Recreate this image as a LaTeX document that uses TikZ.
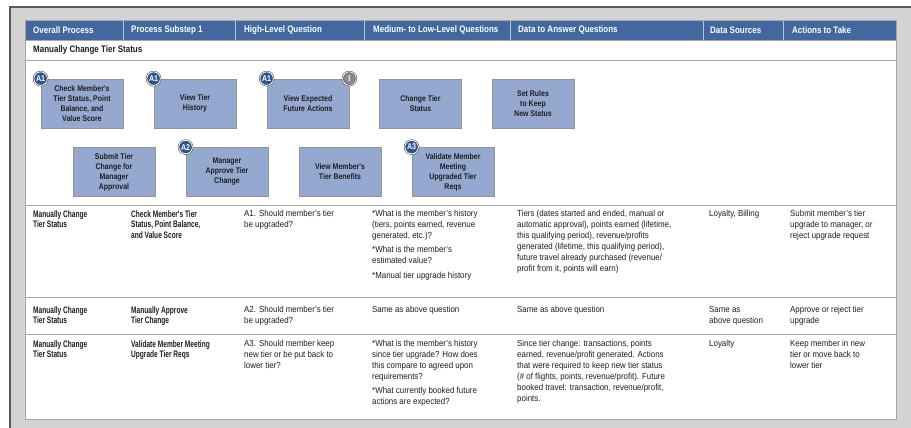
\documentclass[tikz,border=0pt]{standalone}
\usepackage{fontspec}
\setmainfont[FakeStretch=0.9]{Liberation Sans}
\newfontfamily\headfont[FakeStretch=0.85]{Liberation Sans}
\newfontfamily\rowfont[FakeStretch=0.7]{Liberation Sans}
\usetikzlibrary{positioning}
\definecolor{framegray}{HTML}{D3D3D3}
\definecolor{framedark}{HTML}{5A5A5A}
\definecolor{headblue}{HTML}{43689F}
\definecolor{boxblue}{HTML}{95A8CF}
\definecolor{badgeblue}{HTML}{2C5596}
\definecolor{badgegray}{HTML}{8A8A8A}
\definecolor{rulegray}{HTML}{A8A8A8}
\definecolor{inkdark}{HTML}{1E1E1E}
\tikzset{
  headtxt/.style={anchor=west, text=white, inner sep=0pt, font=\fontsize{9.4}{11}\headfont\bfseries},
  celltxt/.style={anchor=north west, align=left, text=inkdark, inner sep=0pt, font=\fontsize{8.8}{10.9}\selectfont},
  cellbold/.style={celltxt, font=\fontsize{9.4}{10.9}\rowfont\bfseries},
  procbox/.style={rectangle, fill=boxblue, draw=gray!85, line width=0.8pt, minimum width=82pt, minimum height=49pt, align=center, text=inkdark, inner sep=1pt, font=\fontsize{8.2}{10}\headfont\bfseries},
  badge/.style={circle, fill=badgeblue, draw=black!75, double=white, double distance=0.9pt, line width=0.5pt, minimum size=13.5pt, inner sep=0pt, text=white, font=\fontsize{8.4}{8}\headfont\bfseries},
  infobadge/.style={badge, fill=badgegray}
}
\begin{document}
\begin{tikzpicture}[x=1pt, y=-1pt]
  % Coordinates
  \coordinate (F) at (10,7);
  \coordinate (G) at (911,428);
  \coordinate (T) at (25,21);
  \coordinate (U) at (896,419);

  % Frame and table
  \useasboundingbox (0,0) rectangle (G);
  \fill[framegray] (F) rectangle (G);
  \draw[framedark, line width=1.5pt] (10,428) -- (F) -- (911,7);
  \fill[white] (T) rectangle (U);
  \fill[headblue] (T) rectangle (896,40);
  \foreach \x in {123,235,364,510,703,783}
    \draw[rulegray!70, line width=0.8pt] (\x,21) -- (\x,40);
  \foreach \y in {40,60,205,297,334}
    \draw[rulegray, line width=0.8pt] (25,\y) -- (896,\y);
  \draw[rulegray, line width=1pt] (T) rectangle (U);

  % Header
  \node[headtxt] (hovr) at (33,30.5) {Overall Process};
  \node[headtxt] (hsub) at (131,30.5) {Process Substep 1};
  \node[headtxt] (hhig) at (244,30.5) {High-Level Question};
  \node[headtxt] (hmed) at (373,30.5) {Medium- to Low-Level Questions};
  \node[headtxt] (hdat) at (518,30.5) {Data to Answer Questions};
  \node[headtxt] (hsrc) at (710,30.5) {Data Sources};
  \node[headtxt] (hact) at (792,30.5) {Actions to Take};
  \node[headtxt, text=inkdark] (title) at (33,50) {Manually Change Tier Status};

  % Process boxes
  \node[procbox] (chk) at (82,103.5) {Check Member's\\Tier Status, Point\\Balance, and\\Value Score};
  \node[procbox] (hist) at (195,103.5) {View Tier\\History};
  \node[procbox] (futr) at (308,103.5) {View Expected\\Future Actions};
  \node[procbox] (chg) at (420.5,103.5) {Change Tier\\Status};
  \node[procbox] (rules) at (533,103.5) {Set Rules\\to Keep\\New Status};
  \node[procbox] (submit) at (114,172) {Submit Tier\\Change for\\Manager\\Approval};
  \node[procbox] (apprv) at (227,172) {Manager\\Approve Tier\\Change};
  \node[procbox] (bnft) at (340,172) {View Member's\\Tier Benefits};
  \node[procbox] (valid) at (453,172) {Validate Member\\Meeting\\Upgraded Tier\\Reqs};
  \node[badge] (bchk) at (chk.north west) {A1};
  \node[badge] (bhist) at (hist.north west) {A1};
  \node[badge] (bfutr) at (futr.north west) {A1};
  \node[infobadge] (ifutr) at (futr.north east) {I};
  \node[badge] (bapprv) at (apprv.north west) {A2};
  \node[badge] (bvalid) at (valid.north west) {A3};

  % Row 1
  \node[cellbold] (r1c1) at (33,210) {Manually Change\\Tier Status};
  \node[cellbold] (r1c2) at (131,210) {Check Member's Tier\\Status, Point Balance,\\and Value Score};
  \node[celltxt] (r1c3) at (244,210) {A1. Should member's tier\\be upgraded?};
  \node[celltxt] (r1c4) at (372,210) {*What is the member's history\\(tiers, points earned, revenue\\generated, etc.)?\\[3.5pt]*What is the member's\\estimated value?\\[3.5pt]*Manual tier upgrade history};
  \node[celltxt] (r1c5) at (517,210) {Tiers (dates started and ended, manual or\\automatic approval), points earned (lifetime,\\this qualifying period), revenue/profits\\generated (lifetime, this qualifying period),\\future travel already purchased (revenue/\\profit from it, points will earn)};
  \node[celltxt] (r1c6) at (709,210) {Loyalty, Billing};
  \node[celltxt] (r1c7) at (790,210) {Submit member's tier\\upgrade to manager, or\\reject upgrade request};

  % Row 2
  \node[cellbold] (r2c1) at (33,306) {Manually Change\\Tier Status};
  \node[cellbold] (r2c2) at (131,306) {Manually Approve\\Tier Change};
  \node[celltxt] (r2c3) at (244,306) {A2. Should member's tier\\be upgraded?};
  \node[celltxt] (r2c4) at (372,306) {Same as above question};
  \node[celltxt] (r2c5) at (517,306) {Same as above question};
  \node[celltxt] (r2c6) at (709,306) {Same as\\above question};
  \node[celltxt] (r2c7) at (790,306) {Approve or reject tier\\upgrade};

  % Row 3
  \node[cellbold] (r3c1) at (33,340) {Manually Change\\Tier Status};
  \node[cellbold] (r3c2) at (131,340) {Validate Member Meeting\\Upgrade Tier Reqs};
  \node[celltxt] (r3c3) at (244,340) {A3. Should member keep\\new tier or be put back to\\lower tier?};
  \node[celltxt] (r3c4) at (372,340) {*What is the member's history\\since tier upgrade? How does\\this compare to agreed upon\\requirements?\\[3.5pt]*What currently booked future\\actions are expected?};
  \node[celltxt] (r3c5) at (517,340) {Since tier change: transactions, points\\earned, revenue/profit generated. Actions\\that were required to keep new tier status\\(\# of flights, points, revenue/profit). Future\\booked travel: transaction, revenue/profit,\\points.};
  \node[celltxt] (r3c6) at (709,340) {Loyalty};
  \node[celltxt] (r3c7) at (790,340) {Keep member in new\\tier or move back to\\lower tier};
\end{tikzpicture}
\end{document}
